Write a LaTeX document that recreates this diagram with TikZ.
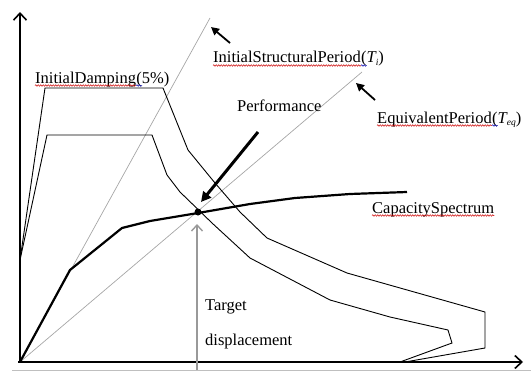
\documentclass[tikz,border=0pt]{standalone}
\usepackage{fontspec}
\setmainfont{Liberation Serif}
\usetikzlibrary{arrows.meta,decorations.pathmorphing}
\newcommand\labfont{\fontsize{16.5}{18}\selectfont}
\newcommand\subfont{\fontsize{9.5}{10}\selectfont\itshape}
\begin{document}
\begin{tikzpicture}[x=1pt,y=-1pt,
  axisline/.style={line width=2pt,-{Straight Barb[length=7pt,width=13pt,line width=1.6pt]}},
  demand/.style={line width=0.9pt,line join=miter},
  capacity/.style={line width=2.2pt,line join=round},
  periodline/.style={line width=0.7pt,gray!70},
  ptrarrow/.style={line width=1.8pt,-{Triangle[length=8pt,width=8pt]}},
  perfarrow/.style={line width=3pt,-{Triangle[length=10pt,width=10pt]}},
  targetarrow/.style={line width=1.6pt,gray!80,-{Straight Barb[length=6pt,width=11pt,line width=1.4pt]}},
  lab/.style={inner sep=0pt,font=\labfont,anchor=base west},
  squig/.style={red!80!black,line width=0.5pt,decorate,decoration={snake,amplitude=0.8pt,segment length=2.5pt}},
  squigb/.style={blue!70!black,line width=0.5pt,decorate,decoration={snake,amplitude=0.8pt,segment length=2.5pt}}
]
\useasboundingbox (0,0) rectangle (531,372);
% coordinates
\coordinate (O) at (20,362);
\coordinate (ytop) at (20,12);
\coordinate (xend) at (523,362);
\coordinate (tiend) at (210,18);
\coordinate (teqend) at (362,72);
\coordinate (bl) at (12,370);
\coordinate (br) at (531,370);
% bottom border line
\draw[gray!50,line width=0.8pt] (bl) -- (br);
% period lines
\draw[periodline] (O) -- (tiend);
\draw[periodline] (O) -- (teqend);
% demand spectra
\draw[demand] (20,260) -- (45,88) -- (163,88) -- (188,150) -- (215,183) -- (240,212) -- (267,238)
  -- (347,273) -- (485,312) -- (485,348) -- (405,362);
\draw[demand] (20,260) -- (47,135) -- (152,135) -- (167,175) -- (180,192) -- (212,223) -- (250,258)
  -- (330,300) -- (390,317) -- (448,330) -- (452,343) -- (400,362);
% capacity spectrum
\draw[capacity] (O) -- (70,270) -- (122,228) -- (150,221) -- (198,213) -- (250,204) -- (295,198)
  -- (350,194) -- (407,192);
% axes
\draw[axisline] (O) -- (ytop);
\draw[axisline] ([xshift=-2pt]O) -- (xend);
% performance point
\node[circle,fill=black,inner sep=0pt,minimum size=7pt] (perf) at (198,212) {};
% arrows
\coordinate (perftail) at (258,132);
\coordinate (perftip) at (201,202);
\draw[perfarrow] (perftail) -- (perftip);
\coordinate (tgtail) at (197,370);
\coordinate (tgtip) at (197,224);
\draw[targetarrow] (tgtail) -- (tgtip);
\coordinate (titail) at (230,43);
\coordinate (titip) at (211,27);
\draw[ptrarrow] (titail) -- (titip);
\coordinate (teqtail) at (375,100);
\coordinate (teqtip) at (356,83);
\draw[ptrarrow] (teqtail) -- (teqtip);
% labels
\node[lab] (damp) at (35,83) {InitialDamping};
\node[lab] (dampp) at (damp.base east) {(5\%)};
\draw[squig] ([yshift=-2.5pt]damp.base west) -- ([yshift=-2.5pt]damp.base east);
\draw[squigb] ([yshift=-2.5pt]dampp.base west) -- ([yshift=-2.5pt,xshift=6pt]dampp.base west);

\node[lab] (isp) at (213,63) {InitialStructuralPeriod};
\node[lab] (ispp) at (isp.base east) {({\itshape T}\raisebox{-2.5pt}{\subfont i})};
\draw[squig] ([yshift=-2.5pt]isp.base west) -- ([yshift=-2.5pt]isp.base east);
\draw[squigb] ([yshift=-2.5pt]ispp.base west) -- ([yshift=-2.5pt,xshift=6pt]ispp.base west);

\node[lab] (perflab) at (237,111) {Performance};

\node[lab] (eqp) at (377,123) {EquivalentPeriod};
\node[lab] (eqpp) at (eqp.base east) {({\itshape T}\raisebox{-2.5pt}{\subfont eq})};
\draw[squig] ([yshift=-2.5pt]eqp.base west) -- ([yshift=-2.5pt]eqp.base east);
\draw[squigb] ([yshift=-2.5pt]eqpp.base west) -- ([yshift=-2.5pt,xshift=6pt]eqpp.base west);

\node[lab] (cap) at (372,213) {CapacitySpectrum};
\draw[squig] ([yshift=-2.5pt]cap.base west) -- ([yshift=-2.5pt]cap.base east);

\node[lab] (tgt1) at (205,310) {Target};
\node[lab] (tgt2) at (205,345) {displacement};
\end{tikzpicture}
\end{document}
